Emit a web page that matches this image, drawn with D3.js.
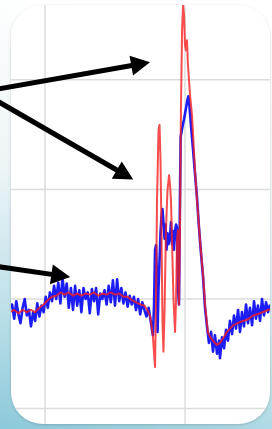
<!DOCTYPE html>
<html>
<head>
<meta charset="utf-8">
<script src="https://cdn.jsdelivr.net/npm/d3@7"></script>
<style>
  html, body { margin: 0; padding: 0; background: #fff; }
  svg { display: block; }
</style>
</head>
<body>
<div id="chart"></div>
<script>
// time in ms (0 = first grid line), amplitude in mV
const xTicks = [0, 100]
const yTicks = [-1, 0, 1, 2]

// averaged signal, [t, v]
const redTrace = [
    [-25, -0.12], [-22, -0.10], [-19, -0.13], [-16, -0.10], [-13, -0.12], [-10, -0.10], [-7, -0.12],
    [-4, -0.08], [-1, -0.05], [2, -0.01], [5, 0.02], [8, 0.03], [11, 0.06], [14, 0.04], [17, 0.06],
    [20, 0.03], [23, 0.05], [26, 0.03], [29, 0.05], [32, 0.04], [35, 0.06], [38, 0.03], [41, 0.05],
    [44, 0.04], [47, 0.06], [50, 0.04], [53, 0.05], [56, 0.02], [59, 0.02], [62, -0.01], [65, -0.03],
    [68, -0.05], [71, -0.06], [73, -0.10], [75, -0.15], [77, -0.33], [78.6, -0.62],
    [79.3, -0.01], [80, 0.90], [81.1, 1.54], [81.8, 1.59], [82.5, 1.27], [83.2, 0.63], [83.9, -0.19],
    [84.6, -0.48], [85.4, -0.10], [86.4, 0.63], [87.5, 0.99], [88.6, 1.13], [89.3, 1.04], [90, 0.90],
    [90.7, 0.54], [91.8, -0.01], [92.9, -0.30], [93.6, -0.01], [94.3, 0.54], [95, 0.63], [95.7, -0.05],
    [96.4, 0.63], [97.1, 1.72], [97.9, 2.45], [98.6, 2.68], [99.3, 2.59], [100, 2.32], [100.7, 2.27],
    [101.4, 2.36], [102.1, 2.14], [103.6, 1.86], [105, 1.68], [107.1, 1.18], [108.6, 0.90], [110.7, 0.54],
    [112.9, 0.22], [114.3, -0.05], [116.4, -0.31], [118.6, -0.36], [120.7, -0.39], [122.9, -0.42],
    [125, -0.40], [127.1, -0.36], [130, -0.30], [134.3, -0.24], [139.3, -0.21], [144.3, -0.19],
    [148.6, -0.15], [153.6, -0.13], [159.3, -0.10], [162, -0.09]
]

// single sweep, [t, v]
const blueTrace = [
    [-25, -0.08], [-23.5, -0.05], [-22, -0.18], [-20.5, -0.02], [-19, -0.14], [-17.5, -0.22], [-16, -0.08],
    [-14.5, 0.0], [-13, -0.15], [-11.5, -0.10], [-10, -0.25], [-8.5, -0.12], [-7, -0.20],
    [-5.5, -0.04], [-4, -0.16], [-2.5, -0.06], [-1, -0.12], [0.5, 0.02], [2, -0.08], [3.5, 0.06],
    [5, -0.02], [6.5, 0.12], [8, 0.0], [9.5, 0.15], [11, -0.04], [12.5, 0.19], [14, 0.02],
    [15.5, 0.14], [17, -0.08], [18.5, 0.10], [20, -0.10], [21.5, 0.12], [23, -0.06], [24.5, 0.08],
    [26, -0.12], [27.5, 0.10], [29, 0.0], [30.5, 0.06], [32, -0.13], [33.5, 0.09], [35, -0.02],
    [36.5, 0.10], [38, -0.14], [39.5, 0.05], [41, 0.0], [42.5, 0.08], [44, -0.05], [45.5, 0.12],
    [47, -0.03], [48.5, 0.17], [50, -0.06], [51.5, 0.18], [53, -0.02], [54.5, 0.10], [56, -0.04],
    [57.5, 0.06], [59, -0.07], [60.5, 0.03], [62, -0.05], [63.5, 0.02], [65, -0.10], [66.5, 0.0],
    [68, -0.14], [69.5, -0.03], [71, -0.10], [72.5, -0.16], [74, -0.08], [75.5, -0.20],
    [76.4, -0.28], [77.1, -0.33], [77.9, -0.05], [78.6, 0.45], [79.3, 0.49], [80, 0.20], [80.4, -0.30],
    [81.1, 0.10], [81.8, 0.35], [82.5, 0.60], [83.2, 0.75], [83.9, 0.82], [84.6, 0.70], [85.4, 0.55],
    [86.1, 0.68], [86.8, 0.45], [87.5, 0.60], [88.2, 0.50], [89.3, 0.57], [90, 0.70], [90.7, 0.50],
    [91.4, 0.62], [92.1, 0.45], [92.9, 0.62], [93.6, 0.68], [94.3, 0.65], [95, 0.10], [95.7, -0.05],
    [96.4, 0.90], [96.9, 1.48], [98, 1.56], [99.3, 1.64], [100.7, 1.74], [101.8, 1.82], [102.4, 1.85],
    [103.2, 1.76], [104.3, 1.58], [105.7, 1.37], [107.1, 1.15], [108.6, 0.92], [110, 0.65], [111.4, 0.42],
    [112.9, 0.20], [114.3, -0.08], [115.7, -0.25],
    [117.1, -0.40], [118.6, -0.30], [120, -0.48], [121.4, -0.33], [122.9, -0.50], [124.3, -0.38],
    [125, -0.54], [126.4, -0.35], [127.9, -0.45], [129.3, -0.28], [130.7, -0.38], [132.1, -0.20],
    [133.6, -0.32], [135, -0.15], [136.4, -0.27], [137.9, -0.10], [139.3, -0.30], [140.7, -0.12],
    [142.1, -0.25], [143.6, -0.05], [145, -0.22], [146.4, -0.08], [147.9, -0.24], [149.3, -0.02],
    [150.7, -0.18], [152.1, -0.06], [153.6, -0.20], [155, 0.0], [156.4, -0.15], [157.9, -0.03],
    [159.3, -0.12], [160.7, -0.05]
]

// annotation arrows, in data units
const arrows = [
    {from: [-36, 1.91], to: [75, 2.16]},
    {from: [-36, 1.82], to: [63, 1.09]},
    {from: [-36, 0.30], to: [18, 0.20]}
]

const width = 272
const height = 429
const panel = {x: 11, y: 5, w: 259, h: 419, r: 32}

const x = d3.scaleLinear().domain([0, 100]).range([45, 185])
const y = d3.scaleLinear().domain([0, 1]).range([299, 189.4])

const svg = d3.select('#chart').append('svg')
    .attr('width', width)
    .attr('height', height)
    .attr('viewBox', [0, 0, width, height])

const defs = svg.append('defs')

//background gradient
const grad = defs.append('linearGradient')
    .attr('id', 'bg')
    .attr('x1', 0.2).attr('y1', 0).attr('x2', 0).attr('y2', 1)
grad.append('stop').attr('offset', '0%').attr('stop-color', '#ffffff')
grad.append('stop').attr('offset', '40%').attr('stop-color', '#eef5f7')
grad.append('stop').attr('offset', '70%').attr('stop-color', '#c2e2ea')
grad.append('stop').attr('offset', '100%').attr('stop-color', '#8cc9da')

defs.append('filter').attr('id', 'shadow')
    .attr('x', -0.1).attr('y', -0.1).attr('width', 1.2).attr('height', 1.2)
    .append('feDropShadow')
    .attr('dx', 0).attr('dy', 1).attr('stdDeviation', 1.5)
    .attr('flood-color', '#000').attr('flood-opacity', 0.18)

defs.append('filter').attr('id', 'soft')
    .append('feGaussianBlur').attr('stdDeviation', 0.45)

defs.append('clipPath').attr('id', 'panel-clip')
    .append('rect')
    .attr('x', panel.x).attr('y', panel.y)
    .attr('width', panel.w).attr('height', panel.h)
    .attr('rx', panel.r)

svg.append('rect')
    .attr('width', width).attr('height', height)
    .attr('fill', 'url(#bg)')

//white panel
svg.append('rect')
    .attr('x', panel.x).attr('y', panel.y)
    .attr('width', panel.w).attr('height', panel.h)
    .attr('rx', panel.r)
    .attr('fill', '#fff')
    .attr('filter', 'url(#shadow)')

const plot = svg.append('g').attr('clip-path', 'url(#panel-clip)')

//grid
plot.append('g')
    .selectAll('line')
    .data(xTicks)
    .join('line')
    .attr('x1', d => x(d)).attr('x2', d => x(d))
    .attr('y1', panel.y).attr('y2', panel.y + panel.h)
    .attr('stroke', '#dcdcdc')
    .attr('stroke-width', 1.5)

plot.append('g')
    .selectAll('line')
    .data(yTicks)
    .join('line')
    .attr('x1', panel.x).attr('x2', panel.x + panel.w)
    .attr('y1', d => y(d)).attr('y2', d => y(d))
    .attr('stroke', '#dcdcdc')
    .attr('stroke-width', 1.5)

//traces
const line = d3.line()
    .x(d => x(d[0]))
    .y(d => y(d[1]))

const traces = plot.append('g').attr('filter', 'url(#soft)')

traces.append('path')
    .datum(blueTrace)
    .attr('d', line)
    .attr('fill', 'none')
    .attr('stroke', '#1f1ff5')
    .attr('stroke-width', 2.6)
    .attr('stroke-linejoin', 'round')

traces.append('path')
    .datum(redTrace)
    .attr('d', line)
    .attr('fill', 'none')
    .attr('stroke', '#f51f1f')
    .attr('stroke-opacity', 0.8)
    .attr('stroke-width', 2)
    .attr('stroke-linejoin', 'round')

//arrows
const headLen = 19
const headHalf = 10
const arrowG = svg.append('g').attr('filter', 'url(#soft)')
arrows.forEach(a => {
    const x0 = x(a.from[0]), y0 = y(a.from[1])
    const x1 = x(a.to[0]), y1 = y(a.to[1])
    const len = Math.hypot(x1 - x0, y1 - y0)
    const ux = (x1 - x0) / len, uy = (y1 - y0) / len
    const bx = x1 - ux * headLen, by = y1 - uy * headLen
    arrowG.append('line')
        .attr('x1', x0).attr('y1', y0)
        .attr('x2', bx + ux * 2).attr('y2', by + uy * 2)
        .attr('stroke', '#000')
        .attr('stroke-width', 5)
    arrowG.append('path')
        .attr('d', `M${x1},${y1}L${bx - uy * headHalf},${by + ux * headHalf}L${bx + uy * headHalf},${by - ux * headHalf}Z`)
        .attr('fill', '#000')
})
</script>
</body>
</html>
